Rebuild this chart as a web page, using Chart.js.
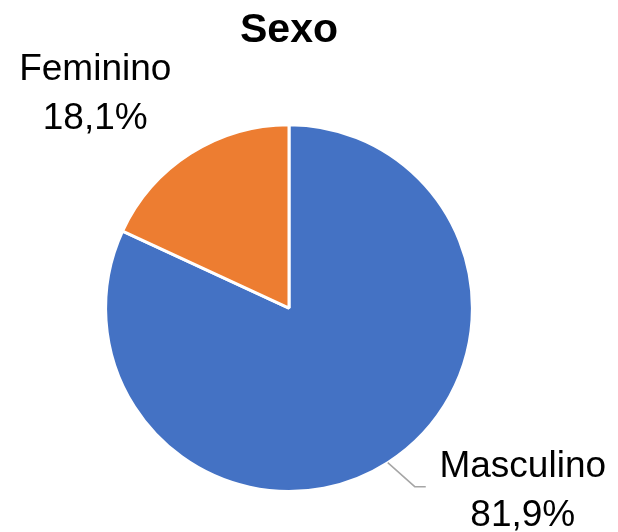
<!DOCTYPE html>
<html>
<head>
<meta charset="utf-8">
<script src="https://cdn.jsdelivr.net/npm/chart.js@4.4.1/dist/chart.umd.min.js"></script>
<style>
  html, body { margin: 0; padding: 0; background: #fff; }
  #wrap { width: 618px; height: 532px; }
</style>
</head>
<body>
<div id="wrap"><canvas id="sexoChart"></canvas></div>
<script>
// Data
const categories = ['Masculino', 'Feminino'];
const percentages = [81.9, 18.1];
const sliceColors = ['#4472C4', '#ED7D31'];

const FONT = '"Liberation Sans", Arial, sans-serif';

// Labels outside the pie, like Excel's best-fit data labels
const outsideLabels = {
    id: 'outsideLabels',
    afterDatasetsDraw(chart) {
        const ctx = chart.ctx;
        const meta = chart.getDatasetMeta(0);
        ctx.save();
        ctx.font = '37px ' + FONT;
        ctx.fillStyle = '#000';
        ctx.textAlign = 'center';
        ctx.textBaseline = 'middle';
        meta.data.forEach((arc, i) => {
            const p = arc.getProps(['x', 'y', 'startAngle', 'endAngle', 'outerRadius'], true);
            const mid = (p.startAngle + p.endAngle) / 2;
            const ax = p.x + Math.cos(mid) * p.outerRadius;
            const ay = p.y + Math.sin(mid) * p.outerRadius;
            const txt = percentages[i].toFixed(1).replace('.', ',') + '%';
            let lx, ly;
            if (Math.cos(mid) < 0) {
                // upper-left label, no leader line
                lx = ax - 95;
                ly = ay - 84;
            } else {
                // lower-right label with leader line
                ctx.strokeStyle = '#A6A6A6';
                ctx.lineWidth = 1.5;
                ctx.beginPath();
                ctx.moveTo(ax, ay);
                ctx.lineTo(ax + 27, ay + 24);
                ctx.lineTo(ax + 38, ay + 24);
                ctx.stroke();
                lx = ax + 135;
                ly = ay + 4;
            }
            ctx.fillText(categories[i], lx, ly);
            ctx.fillText(txt, lx, ly + 49);
        });
        ctx.restore();
    }
};

const ctx = document.getElementById('sexoChart').getContext('2d');
new Chart(ctx, {
    type: 'pie',
    data: {
        labels: categories,
        datasets: [{
            data: percentages,
            backgroundColor: sliceColors,
            borderColor: '#fff',
            borderWidth: 3
        }]
    },
    options: {
        responsive: true,
        maintainAspectRatio: false,
        animation: false,
        layout: {
            padding: { left: 0, right: 40, top: 0, bottom: 39 }
        },
        plugins: {
            legend: { display: false },
            tooltip: { enabled: false },
            title: {
                display: true,
                text: 'Sexo',
                color: '#000',
                font: { family: FONT, size: 41, weight: 'bold', lineHeight: 1.2 },
                padding: { top: 6, bottom: 68 }
            }
        }
    },
    plugins: [outsideLabels]
});
</script>
</body>
</html>
